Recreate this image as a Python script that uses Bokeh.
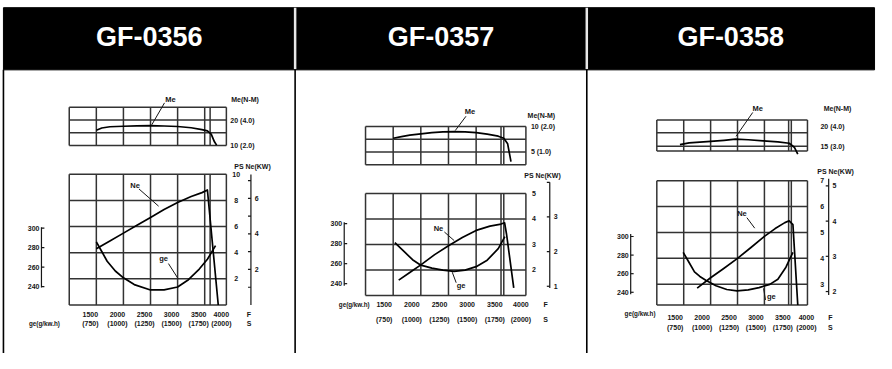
from bokeh.plotting import figure
from bokeh.models import Range1d
from bokeh.core.properties import value
from bokeh.embed import file_html
from bokeh.resources import INLINE

# ---------------- data ----------------
MODELS = ["GF-0356", "GF-0357", "GF-0358"]

RPM_GRID = [1500, 2000, 2500, 3000, 3500]
RPM_LABELS = ["1500", "2000", "2500", "3000", "3500", "4000"]
S_LABELS = ["(750)", "(1000)", "(1250)", "(1500)", "(1750)", "(2000)"]
GE_TICKS = [300, 280, 260, 240]
GE_LABELS = ["300", "280", "260", "240"]
KW_PER_PS = 0.7355

# GF-0356
c1_rpm_span = [1000, 3900]
c1_rpm_marks = [3600]
c1_me_span = [10, 25]
c1_me_grid = [15, 20]
c1_me_ticks = [20, 10]
c1_me_labels = ["20 (4.0)", "10 (2.0)"]
c1_ps_span = [0, 10]
c1_ps_grid = [2, 4, 6, 8]
c1_ps_ticks = [10, 8, 6, 4, 2]
c1_kw_span = [0, 7.35]
c1_kw_ticks = [1, 2, 3, 4, 5, 6, 7]
c1_kw_labels = ["", "2", "", "4", "", "6", ""]
c1_me_rpm = [1500, 1600, 1750, 2000, 2250, 2500, 2750, 3000, 3250, 3450, 3550, 3620, 3680, 3720]
c1_me = [16.0, 16.9, 17.4, 17.6, 17.75, 17.8, 17.7, 17.5, 17.0, 16.3, 15.8, 14.5, 11.5, 10.2]
c1_ne_rpm = [1500, 1750, 2000, 2250, 2500, 2750, 3000, 3250, 3450, 3550, 3650, 3750]
c1_ne = [4.3, 4.9, 5.5, 6.1, 6.7, 7.3, 7.85, 8.3, 8.6, 8.8, 4.4, 0.0]
c1_ge_rpm = [1500, 1600, 1700, 1850, 2000, 2200, 2500, 2750, 3000, 3200, 3400, 3550, 3700]
c1_ge = [286, 276, 266, 256, 249, 242, 236.5, 236.5, 239.5, 247, 258, 268, 282]

# GF-0357
c2_rpm_span = [1000, 3900]
c2_rpm_marks = [3450]
c2_me_span = [2.5, 10]
c2_me_grid = [5, 7.5]
c2_me_ticks = [10, 5]
c2_me_labels = ["10 (2.0)", "5 (1.0)"]
c2_ps_span = [1, 5]
c2_ps_grid = [2, 3, 4]
c2_ps_ticks = [5, 4, 3, 2]
c2_kw_span = [0.95, 4.0]
c2_kw_ticks = [1, 2, 3, 4]
c2_kw_labels = ["1", "2", "3", ""]
c2_me_rpm = [1500, 1650, 1800, 2000, 2200, 2400, 2600, 2800, 3000, 3200, 3400, 3500, 3570, 3630]
c2_me = [7.7, 8.0, 8.3, 8.55, 8.8, 8.95, 9.0, 8.95, 8.8, 8.5, 8.1, 7.7, 6.6, 3.1]
c2_ne_rpm = [1600, 1800, 2000, 2250, 2500, 2750, 3000, 3250, 3450, 3515, 3550, 3680]
c2_ne = [1.6, 1.9, 2.2, 2.6, 2.95, 3.27, 3.55, 3.72, 3.8, 3.85, 3.4, 1.3]
c2_ge_rpm = [1530, 1700, 1850, 2000, 2200, 2400, 2600, 2800, 3000, 3200, 3400, 3520]
c2_ge = [281, 272, 264, 258.5, 255.5, 253.5, 252.2, 253.5, 257, 263.5, 275, 287]

# GF-0358
c3_rpm_span = [1000, 3800]
c3_rpm_marks = [3450]
c3_me_span = [13.2, 24.75]
c3_me_grid = [15, 20]
c3_me_ticks = [22.5, 15]
c3_me_labels = ["20 (4.0)", "15 (3.0)"]
c3_ps_span = [2.2, 7]
c3_ps_grid = [3, 4, 5, 6]
c3_ps_ticks = [7, 6, 5, 4, 3]
c3_kw_span = [1.9, 5.2]
c3_kw_ticks = [2, 3, 4, 5]
c3_kw_labels = ["2", "3", "4", "5"]
c3_me_rpm = [1430, 1600, 1800, 2000, 2250, 2460, 2700, 2980, 3250, 3460, 3555, 3620]
c3_me = [15.6, 16.2, 16.5, 16.8, 17.2, 17.6, 17.4, 17.0, 16.6, 16.1, 14.6, 12.0]
c3_ne_rpm = [1750, 2000, 2250, 2500, 2750, 3000, 3200, 3380, 3460, 3530, 3620]
c3_ne = [2.85, 3.25, 3.62, 4.0, 4.42, 4.85, 5.15, 5.38, 5.45, 5.3, 2.2]
c3_ge_rpm = [1490, 1600, 1700, 1800, 1910, 2100, 2300, 2490, 2700, 2900, 3100, 3250, 3400, 3530]
c3_ge = [283, 272, 262, 257, 253, 247, 243, 241.5, 242.5, 245, 248.5, 254, 267, 283]

DATA = [
    dict(rpm_span=c1_rpm_span, rpm_marks=c1_rpm_marks, me_span=c1_me_span, me_grid=c1_me_grid,
         me_ticks=c1_me_ticks, me_labels=c1_me_labels, ps_span=c1_ps_span, ps_grid=c1_ps_grid,
         ps_ticks=c1_ps_ticks, kw_span=c1_kw_span, kw_ticks=c1_kw_ticks, kw_labels=c1_kw_labels,
         me_rpm=c1_me_rpm, me=c1_me, ne_rpm=c1_ne_rpm, ne=c1_ne, ge_rpm=c1_ge_rpm, ge=c1_ge),
    dict(rpm_span=c2_rpm_span, rpm_marks=c2_rpm_marks, me_span=c2_me_span, me_grid=c2_me_grid,
         me_ticks=c2_me_ticks, me_labels=c2_me_labels, ps_span=c2_ps_span, ps_grid=c2_ps_grid,
         ps_ticks=c2_ps_ticks, kw_span=c2_kw_span, kw_ticks=c2_kw_ticks, kw_labels=c2_kw_labels,
         me_rpm=c2_me_rpm, me=c2_me, ne_rpm=c2_ne_rpm, ne=c2_ne, ge_rpm=c2_ge_rpm, ge=c2_ge),
    dict(rpm_span=c3_rpm_span, rpm_marks=c3_rpm_marks, me_span=c3_me_span, me_grid=c3_me_grid,
         me_ticks=c3_me_ticks, me_labels=c3_me_labels, ps_span=c3_ps_span, ps_grid=c3_ps_grid,
         ps_ticks=c3_ps_ticks, kw_span=c3_kw_span, kw_ticks=c3_kw_ticks, kw_labels=c3_kw_labels,
         me_rpm=c3_me_rpm, me=c3_me, ne_rpm=c3_ne_rpm, ne=c3_ne, ge_rpm=c3_ge_rpm, ge=c3_ge),
]

# ---------------- layout (reference pixel positions) ----------------
PAGE_X = (0, 892)
PAGE_Y = (369, 0)          # bottom, top
HEADER = dict(top=7.5, bottom=72.5, cells=[(3, 300), (300, 597), (597, 890)], text_y=38)
LAYOUT = [
    dict(box_x=(70, 230), up_y=(151.7, 111.7), lo_y=(318.3, 181.7), ge_y=(299, 238), ge_x=41.7,
         ge_axis=(237, 300), me_title=(235, 103.3), me_lab_dx=4, ps_title=(238, 174), ps_x=240,
         kw_x=255, row_y=(328.5, 337.5), fs_x=253, ge_title=(29, 337.5), lab_dx=-6, last_dx=-5,
         notes=[("Me", 173, 103, (167, 107, 154, 130)), ("Ne", 137, 193, (141, 197, 161, 215)),
                ("ge", 166, 270, (171, 275, 181, 291))]),
    dict(box_x=(371.7, 535), up_y=(171.7, 131.7), lo_y=(308.3, 201.7), ge_y=(296, 233.3), ge_x=350,
         ge_axis=(231.7, 298.3), me_title=(536.7, 120), me_lab_dx=5, ps_title=(533.3, 183.3), ps_x=543.3,
         kw_x=559.3, row_y=(318.3, 333.3), fs_x=555, ge_title=(344.5, 318.3), lab_dx=-9, last_dx=-5,
         notes=[("Me", 478, 116, (474, 121, 463, 136)), ("Ne", 446, 238, (452, 242, 462, 251)),
                ("ge", 469, 298, (464, 295, 460, 284))]),
    dict(box_x=(668.3, 821.7), up_y=(157.3, 125), lo_y=(318.3, 188.3), ge_y=(305, 246.7), ge_x=641.7,
         ge_axis=(244, 307), me_title=(838.3, 113.3), me_lab_dx=13, ps_title=(831.7, 178.3), ps_x=836.7,
         kw_x=843.3, row_y=(331.7, 341.7), fs_x=845, ge_title=(635.5, 326.7), lab_dx=-8.5, last_dx=-1,
         notes=[("Me", 771, 113, (766, 117, 749, 142)), ("Ne", 755, 223, (760, 227, 768, 238)),
                ("ge", 785, 309, (779, 313, 777, 301))]),
]

FONT = value("Liberation Sans")
INK = "#161616"
GRID = "#333333"


def map_range(v0, v1, p0, p1, lo, hi):
    """Range whose value v0 sits at page pixel p0 and v1 at p1; spans page lo..hi."""
    k = (v1 - v0) / (p1 - p0)
    return Range1d(start=v0 + (lo - p0) * k, end=v0 + (hi - p0) * k)


p = figure(width=876, height=353, x_range=Range1d(*PAGE_X), y_range=Range1d(*PAGE_Y),
           output_backend="svg", toolbar_location=None, min_border=0,
           x_axis_type=None, y_axis_type=None)
p.outline_line_color = None
p.background_fill_color = "white"
p.border_fill_color = "white"

xr, yr = {}, {}
for i, (d, L) in enumerate(zip(DATA, LAYOUT)):
    xr[f"x{i}"] = map_range(d["rpm_span"][0], d["rpm_span"][1], L["box_x"][0], L["box_x"][1], *PAGE_X)
    yr[f"me{i}"] = map_range(d["me_span"][0], d["me_span"][1], L["up_y"][0], L["up_y"][1], *PAGE_Y)
    yr[f"ps{i}"] = map_range(d["ps_span"][0], d["ps_span"][1], L["lo_y"][0], L["lo_y"][1], *PAGE_Y)
    yr[f"ge{i}"] = map_range(240, 300, L["ge_y"][0], L["ge_y"][1], *PAGE_Y)
p.extra_x_ranges = xr
p.extra_y_ranges = yr


def txt(x, y, t, size="7px", align="center", xr_name="default", yr_name="default",
        color=INK, style="bold", dx=0, dy=0, baseline="middle"):
    p.text(x=x, y=y, text=t, x_range_name=xr_name, y_range_name=yr_name,
           text_font=FONT, text_font_size=value(size), text_font_style=style,
           text_color=color, text_align=align, text_baseline=baseline,
           x_offset=dx, y_offset=dy)


# ---- header band and cell borders ----
p.quad(left=[HEADER["cells"][0][0]], right=[HEADER["cells"][-1][1]],
       top=[HEADER["top"]], bottom=[HEADER["bottom"]], color="black")
seps = [c[0] for c in HEADER["cells"][1:]]
p.segment(x0=seps, x1=seps, y0=[HEADER["top"]] * 2, y1=[HEADER["bottom"] - 1] * 2,
          line_color="#e8e8e8", line_width=2.5)
centers = [(a + b) / 2 for a, b in HEADER["cells"]]
txt(centers, [HEADER["text_y"]] * 3, MODELS, size="27px", color="white")
borders = [HEADER["cells"][0][0]] + seps
p.segment(x0=borders, x1=borders, y0=[HEADER["bottom"]] * 3, y1=[369] * 3,
          line_color="black", line_width=1.6)

# ---- the three performance charts ----
for i, (d, L) in enumerate(zip(DATA, LAYOUT)):
    xn, mn, pn, gn = f"x{i}", f"me{i}", f"ps{i}", f"ge{i}"
    r0, r1 = d["rpm_span"]
    vx = [r0] + RPM_GRID + d["rpm_marks"] + [r1]

    # upper torque panel grid
    m0, m1 = d["me_span"]
    p.segment(x0=vx, x1=vx, y0=[m0] * len(vx), y1=[m1] * len(vx), x_range_name=xn,
              y_range_name=mn, line_color=GRID, line_width=1.5)
    hy = [m0] + d["me_grid"] + [m1]
    p.segment(x0=[r0] * len(hy), x1=[r1] * len(hy), y0=hy, y1=hy, x_range_name=xn,
              y_range_name=mn, line_color=GRID, line_width=1.5)
    p.line(d["me_rpm"], d["me"], x_range_name=xn, y_range_name=mn, line_color="black",
           line_width=1.7, line_join="round")
    txt([r1] * len(d["me_ticks"]), d["me_ticks"], d["me_labels"], align="left",
        xr_name=xn, yr_name=mn, dx=L["me_lab_dx"])
    txt([L["me_title"][0]], [L["me_title"][1]], ["Me(N-M)"], align="left")

    # lower power / fuel panel grid
    q0, q1 = d["ps_span"]
    p.segment(x0=vx, x1=vx, y0=[q0] * len(vx), y1=[q1] * len(vx), x_range_name=xn,
              y_range_name=pn, line_color=GRID, line_width=1.5)
    hy = [q0] + d["ps_grid"] + [q1]
    p.segment(x0=[r0] * len(hy), x1=[r1] * len(hy), y0=hy, y1=hy, x_range_name=xn,
              y_range_name=pn, line_color=GRID, line_width=1.5)
    p.line(d["ne_rpm"], d["ne"], x_range_name=xn, y_range_name=pn, line_color="black",
           line_width=1.7, line_join="round")
    p.line(d["ge_rpm"], d["ge"], x_range_name=xn, y_range_name=gn, line_color="black",
           line_width=1.7, line_join="round")

    # PS column
    txt([L["ps_x"]] * len(d["ps_ticks"]), d["ps_ticks"], [str(v) for v in d["ps_ticks"]],
        yr_name=pn)
    txt([L["ps_title"][0]], [L["ps_title"][1]], ["PS Ne(KW)"], align="left")

    # kW axis (drawn on the PS scale)
    kx = L["kw_x"]
    k0, k1 = d["kw_span"]
    p.segment(x0=[kx], x1=[kx], y0=[k0 / KW_PER_PS], y1=[k1 / KW_PER_PS], y_range_name=pn,
              line_color=INK, line_width=1.2)
    kt = [k / KW_PER_PS for k in d["kw_ticks"]]
    p.segment(x0=[kx - 3] * len(kt), x1=[kx] * len(kt), y0=kt, y1=kt, y_range_name=pn,
              line_color=INK, line_width=1.2)
    txt([kx + 4] * len(kt), kt, d["kw_labels"], align="left", yr_name=pn)

    # ge axis
    gx = L["ge_x"]
    p.segment(x0=[gx], x1=[gx], y0=[L["ge_axis"][0]], y1=[L["ge_axis"][1]],
              line_color=INK, line_width=1.2)
    p.segment(x0=[gx] * 4, x1=[gx + 3] * 4, y0=GE_TICKS, y1=GE_TICKS, y_range_name=gn,
              line_color=INK, line_width=1.2)
    txt([gx - 2] * 4, GE_TICKS, GE_LABELS, align="right", yr_name=gn)
    txt([L["ge_title"][0]], [L["ge_title"][1]], ["ge(g/kw.h)"], align="left", size="6.3px")

    # rpm labels: grid values, then the last label under the right edge
    n = len(RPM_GRID)
    txt(RPM_GRID, [L["row_y"][0]] * n, RPM_LABELS[:n], xr_name=xn, dx=L["lab_dx"])
    txt(RPM_GRID, [L["row_y"][1]] * n, S_LABELS[:n], xr_name=xn, dx=L["lab_dx"])
    txt([r1, r1], list(L["row_y"]), [RPM_LABELS[n], S_LABELS[n]], xr_name=xn, dx=L["last_dx"])
    txt([L["fs_x"]] * 2, list(L["row_y"]), ["F", "S"])

    # curve labels with leader lines
    for name, tx, ty, (ax, ay, bx, by) in L["notes"]:
        txt([tx], [ty], [name], size="7.5px")
        p.segment(x0=[ax], y0=[ay], x1=[bx], y1=[by], line_color=INK, line_width=1.0)

open("out.html", "w").write(file_html(p, INLINE))
